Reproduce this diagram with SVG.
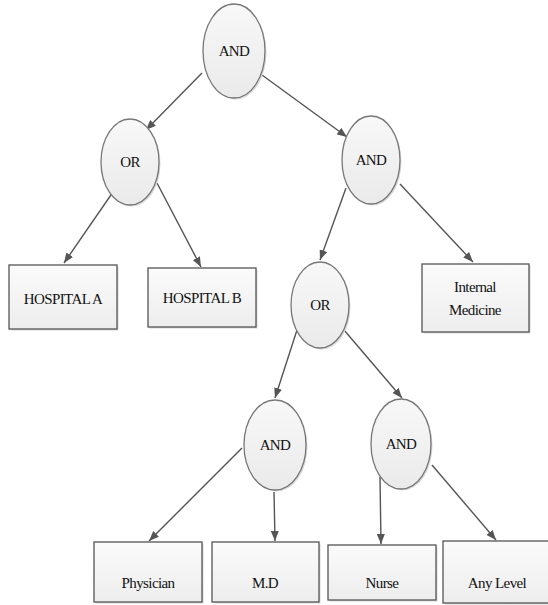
<svg xmlns="http://www.w3.org/2000/svg" width="548" height="605" viewBox="0 0 548 605">
<defs>
<linearGradient id="eg" x1="0" y1="0" x2="0" y2="1"><stop offset="0" stop-color="#f8f8f8"/><stop offset="1" stop-color="#eaeaea"/></linearGradient>
<linearGradient id="bg" x1="0" y1="0" x2="0" y2="1"><stop offset="0" stop-color="#fbfbfb"/><stop offset="1" stop-color="#ededed"/></linearGradient>
<marker id="ah" viewBox="0 0 10 8" refX="10" refY="4" markerWidth="10" markerHeight="8" markerUnits="userSpaceOnUse" orient="auto"><path d="M0,0 L10,4 L0,8 Z" fill="#555"/></marker>
<style>
.e{fill:url(#eg);stroke:#777;stroke-width:1.3}
.b{fill:url(#bg);stroke:#555;stroke-width:1.3}
.s{fill:#d8d8d8}
text{font-family:'Liberation Serif','Times New Roman','DejaVu Serif',serif;font-size:15px;fill:#111;text-anchor:middle;letter-spacing:-0.6px}
.c line{stroke:#555;stroke-width:1.4;marker-end:url(#ah)}
</style>
</defs>
<g class="c" id="connectors">
<line x1="202" y1="73" x2="146" y2="130"/>
<line x1="262" y1="75" x2="347" y2="137"/>
<line x1="113" y1="192" x2="64" y2="263"/>
<line x1="157" y1="183" x2="201" y2="267"/>
<line x1="346" y1="188" x2="320" y2="260"/>
<line x1="400" y1="184" x2="473" y2="262"/>
<line x1="297" y1="330" x2="275" y2="398"/>
<line x1="344" y1="330" x2="402" y2="398"/>
<line x1="242" y1="448" x2="149" y2="541"/>
<line x1="274" y1="492" x2="275" y2="541"/>
<line x1="380" y1="477" x2="381" y2="544"/>
<line x1="432" y1="465" x2="496" y2="540"/>
</g>
<g id="and1"><ellipse class="s" cx="235.5" cy="52.5" rx="31" ry="47"/><ellipse class="e" cx="234" cy="51" rx="31" ry="47"/><text x="234" y="56">AND</text></g>
<g id="or1"><ellipse class="s" cx="131.5" cy="163.5" rx="29" ry="43"/><ellipse class="e" cx="130" cy="162" rx="29" ry="43"/><text x="130" y="167">OR</text></g>
<g id="and2"><ellipse class="s" cx="372.5" cy="161.5" rx="29" ry="44"/><ellipse class="e" cx="371" cy="160" rx="29" ry="44"/><text x="371" y="165">AND</text></g>
<g id="hospA"><rect class="s" x="10.5" y="266.5" width="108" height="64"/><rect class="b" x="9" y="265" width="108" height="64"/><text x="63" y="304">HOSPITAL A</text></g>
<g id="hospB"><rect class="s" x="149.5" y="269.5" width="108" height="59"/><rect class="b" x="148" y="268" width="108" height="59"/><text x="202" y="303">HOSPITAL B</text></g>
<g id="internal"><rect class="s" x="423.5" y="265.5" width="107" height="68"/><rect class="b" x="422" y="264" width="107" height="68"/><text x="475" y="292">Internal</text><text x="475" y="315">Medicine</text></g>
<g id="or2"><ellipse class="s" cx="321.5" cy="306.5" rx="29" ry="43"/><ellipse class="e" cx="320" cy="305" rx="29" ry="43"/><text x="320" y="310">OR</text></g>
<g id="and3"><ellipse class="s" cx="276.5" cy="446.5" rx="31" ry="45"/><ellipse class="e" cx="275" cy="445" rx="31" ry="45"/><text x="275" y="450">AND</text></g>
<g id="and4"><ellipse class="s" cx="402.5" cy="445.5" rx="30" ry="45"/><ellipse class="e" cx="401" cy="444" rx="30" ry="45"/><text x="401" y="449">AND</text></g>
<g id="physician"><rect class="s" x="95.5" y="543.5" width="108" height="60"/><rect class="b" x="94" y="542" width="108" height="60"/><text x="148" y="588">Physician</text></g>
<g id="md"><rect class="s" x="213.5" y="543.5" width="107" height="60"/><rect class="b" x="212" y="542" width="107" height="60"/><text x="265" y="588">M.D</text></g>
<g id="nurse"><rect class="s" x="329.5" y="546.5" width="108" height="55"/><rect class="b" x="328" y="545" width="108" height="55"/><text x="382" y="588">Nurse</text></g>
<g id="anylevel"><rect class="s" x="444.5" y="542.5" width="108" height="62"/><rect class="b" x="443" y="541" width="108" height="62"/><text x="497" y="588">Any Level</text></g>
</svg>
